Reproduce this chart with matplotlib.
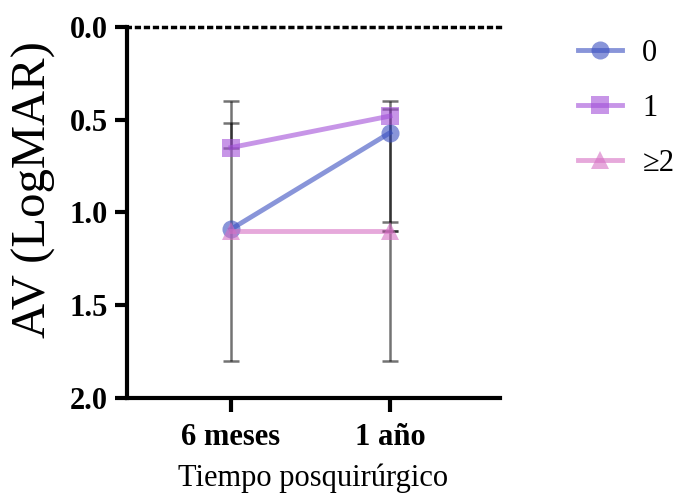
import numpy as np
import matplotlib.pyplot as plt

plt.rcParams['font.family'] = ['Liberation Serif', 'DejaVu Serif']

timepoints = ['6 meses', '1 año']
groups = ['0', '1', '≥2']
means = {'0': [1.09, 0.57],
         '1': [0.65, 0.48],
         '≥2': [1.10, 1.10]}
# error bar ends (top, bottom) on the LogMAR scale; None = no bar
bar_top = {'0': [0.40, 0.44],
           '1': [0.52, 0.40],
           '≥2': [None, 1.10]}
bar_bottom = {'0': [1.80, 1.05],
              '1': [0.65, 1.10],
              '≥2': [None, 1.80]}

colors = {'0': '#3a4fc0', '1': '#a24fd8', '≥2': '#d670c4'}
markers = {'0': 'o', '1': 's', '≥2': '^'}

fig = plt.figure(figsize=(6.77, 4.98), dpi=100)
ax = fig.add_axes([0.1876, 0.2008, 0.551, 0.745])

x = np.arange(len(timepoints))

for g in groups:
    for i in range(len(x)):
        if bar_top[g][i] is None:
            continue
        ax.errorbar(x[i], means[g][i],
                    yerr=[[means[g][i] - bar_top[g][i]], [bar_bottom[g][i] - means[g][i]]],
                    fmt='none', ecolor='black', alpha=0.55, elinewidth=1.8,
                    capsize=6, capthick=1.8, zorder=2)

for g in groups:
    ax.plot(x, means[g], color=colors[g], marker=markers[g], markersize=13,
            linewidth=3.5, alpha=0.6, label=g, zorder=3, markeredgewidth=0)

ax.set_ylim(2.0, 0.0)
ax.set_xlim(-0.654, 1.692)
ax.set_yticks([0.0, 0.5, 1.0, 1.5, 2.0])
ax.set_yticklabels(['0.0', '0.5', '1.0', '1.5', '2.0'], fontweight='bold', fontsize=22)
ax.set_xticks(x)
ax.set_xticklabels(timepoints, fontweight='bold', fontsize=22)

ax.spines['right'].set_visible(False)
ax.spines['top'].set_linestyle((0, (0.8, 1.8)))
ax.spines['top'].set_linewidth(2.5)
for s in ['left', 'bottom']:
    ax.spines[s].set_linewidth(3)
ax.tick_params(axis='both', width=3, length=9, pad=5)
ax.tick_params(axis='x', length=10, pad=8)

ax.set_ylabel('AV (LogMAR)', fontsize=35)
ax.yaxis.set_label_coords(-0.19, 0.563)
ax.set_xlabel('Tiempo posquirúrgico', fontsize=22, labelpad=8)

ax.legend(loc='upper left', bbox_to_anchor=(0.854, 0.922), bbox_transform=fig.transFigure,
          frameon=False, fontsize=22, handlelength=1.45, labelspacing=0.85,
          handletextpad=0.65, borderpad=0, borderaxespad=0)

fig.savefig('out.png', dpi=100)
